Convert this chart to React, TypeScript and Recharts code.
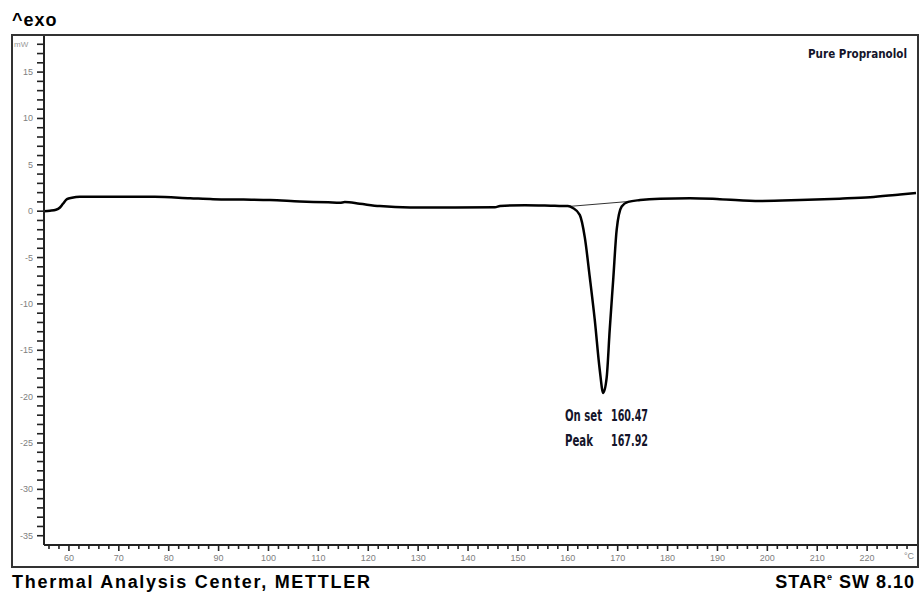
import React from 'react';
import { LineChart, Line, XAxis, YAxis } from 'recharts';

// DSC curve of pure propranolol, heat flow (mW) vs temperature (°C)
const temperature = [
  55, 56.2, 57.4, 58.2, 58.8, 59.6, 60.6, 62.2, 70, 77.2, 84.3, 88.9, 95, 100.3,
  106.3, 112, 114.3, 115.3, 118.3, 122.3, 128.4, 137, 145.4, 146.4, 151.4, 157.4,
  160, 161, 162.4, 163.4, 164.4, 165.4, 166.4, 167.1, 167.8, 168.4, 169.1, 169.8,
  170.8, 172.1, 174.5, 178.5, 184.5, 190.5, 198.5, 206.5, 214.5, 220.6, 226.6, 229.8,
];
const heatFlow = [
  0.0, 0.05, 0.15, 0.4, 0.8, 1.3, 1.45, 1.55, 1.55, 1.55, 1.4, 1.3, 1.25, 1.2,
  1.05, 0.95, 0.9, 0.98, 0.8, 0.55, 0.4, 0.4, 0.42, 0.55, 0.65, 0.58,
  0.55, 0.35, -0.4, -2.8, -7.1, -11.7, -17.1, -19.6, -17.9, -12.8, -7.4, -2.0,
  0.5, 1.0, 1.2, 1.35, 1.4, 1.3, 1.1, 1.2, 1.35, 1.5, 1.8, 1.95,
];

// integration baseline under the melting peak
const baselineTemp = [160.0, 172.3];
const baselineFlow = [0.5, 1.05];

const xTicks = Array.from({ length: 87 }, (_, i) => 56 + i * 2);
const yTicks = Array.from({ length: 54 }, (_, i) => -35 + i);

const curve = temperature.map((t, i) => ({ t, v: heatFlow[i] }));
const baseline = baselineTemp.map((t, i) => ({ t, v: baselineFlow[i] }));

const condensed = "'DejaVu Sans Condensed', 'Liberation Sans Narrow', 'DejaVu Sans', sans-serif";
const textColor = '#14142a';
const tickFont = "'Liberation Sans', Arial, sans-serif";

const YTick = ({ x, y, payload }: any) => {
  const major = payload.value % 5 === 0;
  return (
    <g>
      <line x1={x - 7} x2={x} y1={y} y2={y} stroke="#222" strokeWidth={1.6} />
      {major && (
        <text x={x - 11} y={y + 3} textAnchor="end" fontSize={9} fill="#808080" fontFamily={tickFont}>
          {payload.value}
        </text>
      )}
    </g>
  );
};

const XTick = ({ x, y, payload }: any) => {
  const major = payload.value % 10 === 0;
  return (
    <g>
      <line x1={x} x2={x} y1={y} y2={y + (major ? 6 : 4)} stroke="#222" strokeWidth={1.6} />
      {major && (
        <text x={x} y={y + 16} textAnchor="middle" fontSize={9} fill="#808080" fontFamily={tickFont}>
          {payload.value}
        </text>
      )}
    </g>
  );
};

export default function App() {
  return (
    <div style={{ position: 'absolute', left: 0, top: 0, width: 920, height: 592, background: '#fff' }}>
      <LineChart width={920} height={592} margin={{ top: 35, right: 3, bottom: 0, left: 0 }}>
        <XAxis
          type="number"
          dataKey="t"
          domain={[55, 230]}
          ticks={xTicks}
          interval={0}
          height={47}
          tickSize={0}
          tickMargin={0}
          tick={<XTick />}
          axisLine={{ stroke: '#222', strokeWidth: 2 }}
          allowDataOverflow
        />
        <YAxis
          type="number"
          dataKey="v"
          domain={[-36, 19]}
          ticks={yTicks}
          interval={0}
          width={44}
          tickSize={0}
          tickMargin={0}
          tick={<YTick />}
          axisLine={{ stroke: '#222', strokeWidth: 2 }}
          allowDataOverflow
        />
        <Line
          data={baseline}
          dataKey="v"
          type="linear"
          stroke="#333"
          strokeWidth={1}
          dot={false}
          isAnimationActive={false}
        />
        <Line
          data={curve}
          dataKey="v"
          type="monotone"
          stroke="#000"
          strokeWidth={2.5}
          dot={false}
          isAnimationActive={false}
        />
      </LineChart>

      <div style={{
        position: 'absolute', left: 11, top: 34, width: 908, height: 534,
        boxSizing: 'border-box', border: '2px solid #333', pointerEvents: 'none',
      }} />

      <svg width={920} height={592} style={{ position: 'absolute', left: 0, top: 0, pointerEvents: 'none' }}>
        <text x={12} y={26} fontSize={18} fontWeight="bold" letterSpacing={1}
          fontFamily={tickFont} fill="#000">^exo</text>
        <text x={14} y={47} fontSize={8} fill="#999" fontFamily={tickFont}>mW</text>
        <text x={904} y={559} fontSize={9} fill="#888" fontFamily={tickFont}>°C</text>

        <text x={808} y={58} fontSize={13} fontWeight="bold" fontFamily={condensed} fill={textColor}
          textLength={99} lengthAdjust="spacingAndGlyphs">Pure Propranolol</text>

        <text x={565} y={421} fontSize={15} fontWeight="bold" fontFamily={condensed} fill={textColor}
          textLength={37} lengthAdjust="spacingAndGlyphs">On set</text>
        <text x={611} y={421} fontSize={15} fontWeight="bold" fontFamily={condensed} fill={textColor}
          textLength={37} lengthAdjust="spacingAndGlyphs">160.47</text>
        <text x={565} y={446} fontSize={15} fontWeight="bold" fontFamily={condensed} fill={textColor}
          textLength={28} lengthAdjust="spacingAndGlyphs">Peak</text>
        <text x={611} y={446} fontSize={15} fontWeight="bold" fontFamily={condensed} fill={textColor}
          textLength={37} lengthAdjust="spacingAndGlyphs">167.92</text>

        <text x={12} y={588} fontSize={18} fontWeight="bold" fontFamily={tickFont}
          fill="#000" textLength={358} lengthAdjust="spacing">Thermal Analysis Center, METTLER</text>
        <text x={915} y={588} fontSize={18} fontWeight="bold" textAnchor="end" letterSpacing={1}
          fontFamily={tickFont} fill="#000">
          STAR<tspan fontSize={9} dy={-8}>e</tspan><tspan dy={8}> SW 8.10</tspan>
        </text>
      </svg>
    </div>
  );
}
